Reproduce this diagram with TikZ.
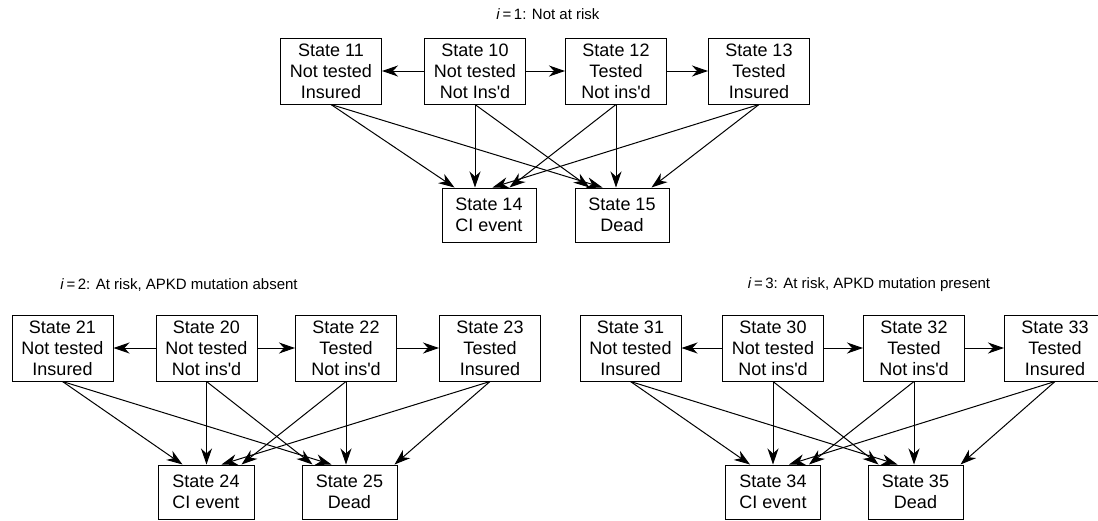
\documentclass[tikz,border=0pt]{standalone}
\usepackage{fontspec}
\setmainfont{Liberation Sans}
\newfontfamily\lsans{Liberation Sans}
\usetikzlibrary{arrows.meta,calc}
\begin{document}
\begin{tikzpicture}[x=1pt,y=-1pt,
  box/.style={draw,line width=1pt,inner sep=0pt,align=center,font=\lsans\fontsize{18}{21}\selectfont},
  upper/.style={box,minimum width=101pt,minimum height=66pt},
  lower/.style={box,minimum width=95pt,minimum height=54pt},
  title/.style={inner sep=0pt,font=\lsans\fontsize{15}{18}\selectfont},
  arr/.style={line width=1pt,-{Stealth[length=16pt,width=11pt,inset=5pt]}},
]
\useasboundingbox (0,0) rectangle (1098,520);
\clip (0,0) rectangle (1098,520);

% ---------- block i = 1 ----------
\node[title] (t1) at (548,14) {\textit{i}\,=\,1: Not at risk};
\node[upper] (s11) at (331,71) {State 11\\Not tested\\Insured};
\node[upper] (s10) at (475,71) {State 10\\Not tested\\Not Ins'd};
\node[upper] (s12) at (616,71) {State 12\\Tested\\Not ins'd};
\node[upper] (s13) at (759,71) {State 13\\Tested\\Insured};
\node[lower,minimum width=94pt] (s14) at (489,215) {State 14\\CI event};
\node[lower,minimum width=94pt] (s15) at (622,215) {State 15\\Dead};

\draw[arr] (s10.west) -- (s11.east);
\draw[arr] (s10.east) -- (s12.west);
\draw[arr] (s12.east) -- (s13.west);

\draw[arr] (s11.south) -- ($(s14.north west)+(13,0)$);
\draw[arr] (s10.south) -- (s10.south |- s14.north);
\draw[arr] (s13.south) -- ($(s14.north west)+(51,0)$);
\draw[arr] (s12.south) -- ($(s14.north west)+(68,0)$);
\draw[arr] (s10.south) -- ($(s15.north west)+(15,0)$);
\draw[arr] (s11.south) -- ($(s15.north west)+(28,0)$);
\draw[arr] (s12.south) -- (s12.south |- s15.north);
\draw[arr] (s13.south) -- ($(s15.north west)+(77,0)$);

% ---------- block i = 2 ----------
\node[title] (t2) at (179,285) {\textit{i}\,=\,2: At risk, APKD mutation absent};
\node[upper] (s21) at (62.5,348) {State 21\\Not tested\\Insured};
\node[upper] (s20) at (206.5,348) {State 20\\Not tested\\Not ins'd};
\node[upper] (s22) at (346,348) {State 22\\Tested\\Not ins'd};
\node[upper] (s23) at (490,348) {State 23\\Tested\\Insured};
\node[lower,minimum width=96pt] (s24) at (206,492) {State 24\\CI event};
\node[lower] (s25) at (349.5,492) {State 25\\Dead};

\draw[arr] (s20.west) -- (s21.east);
\draw[arr] (s20.east) -- (s22.west);
\draw[arr] (s22.east) -- (s23.west);

\draw[arr] (s21.south) -- ($(s24.north west)+(25,0)$);
\draw[arr] (s20.south) -- (s20.south |- s24.north);
\draw[arr] (s23.south) -- ($(s24.north west)+(64,0)$);
\draw[arr] (s22.south) -- ($(s24.north west)+(84,0)$);
\draw[arr] (s20.south) -- ($(s25.north west)+(11,0)$);
\draw[arr] (s21.south) -- ($(s25.north west)+(30,0)$);
\draw[arr] (s22.south) -- (s22.south |- s25.north);
\draw[arr] (s23.south) -- ($(s25.north west)+(93,0)$);

% ---------- block i = 3 ----------
\node[title] (t3) at (869,285) {\textit{i}\,=\,3: At risk, APKD mutation present};
\node[upper] (s31) at (630.5,348) {State 31\\Not tested\\Insured};
\node[upper] (s30) at (773,348) {State 30\\Not tested\\Not ins'd};
\node[upper] (s32) at (914,348) {State 32\\Tested\\Not ins'd};
\node[upper] (s33) at (1055,348) {State 33\\Tested\\Insured};
\node[lower] (s34) at (773,492) {State 34\\CI event};
\node[lower] (s35) at (915.5,492) {State 35\\Dead};

\draw[arr] (s30.west) -- (s31.east);
\draw[arr] (s30.east) -- (s32.west);
\draw[arr] (s32.east) -- (s33.west);

\draw[arr] (s31.south) -- ($(s34.north west)+(25,0)$);
\draw[arr] (s30.south) -- (s30.south |- s34.north);
\draw[arr] (s33.south) -- ($(s34.north west)+(64,0)$);
\draw[arr] (s32.south) -- ($(s34.north west)+(84,0)$);
\draw[arr] (s30.south) -- ($(s35.north west)+(11,0)$);
\draw[arr] (s31.south) -- ($(s35.north west)+(30,0)$);
\draw[arr] (s32.south) -- (s32.south |- s35.north);
\draw[arr] (s33.south) -- ($(s35.north west)+(93,0)$);
\end{tikzpicture}
\end{document}
